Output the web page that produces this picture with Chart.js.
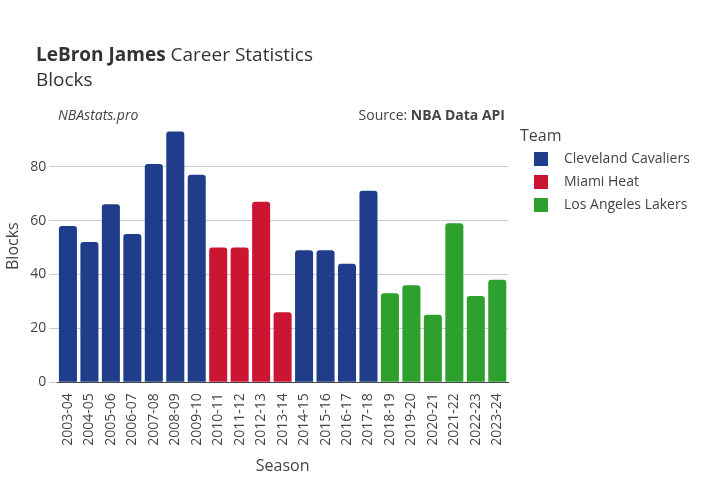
<!DOCTYPE html>
<html>
<head>
<meta charset="utf-8">
<script src="https://cdn.jsdelivr.net/npm/chart.js@4"></script>
<style>
body { margin: 0; background: #fff; }
#wrap { width: 720px; height: 480px; }
</style>
</head>
<body>
<div id="wrap"><canvas id="c" width="720" height="480"></canvas></div>
<script>
var SEASONS = ["2003-04","2004-05","2005-06","2006-07","2007-08","2008-09","2009-10","2010-11","2011-12","2012-13","2013-14","2014-15","2015-16","2016-17","2017-18","2018-19","2019-20","2020-21","2021-22","2022-23","2023-24"];
var BLOCKS = [58,52,66,55,81,93,77,50,50,67,26,49,49,44,71,33,36,25,59,32,38];
var TEAMS = ["Cleveland Cavaliers","Miami Heat","Los Angeles Lakers"];
var SEASON_TEAM = [0,0,0,0,0,0,0,1,1,1,1,0,0,0,0,2,2,2,2,2,2];
var TEAM_COLORS = ["#1f3d8a","#cc1433","#2ea02e"];
var FONT = "'Open Sans', 'Noto Sans', sans-serif";

var datasets = TEAMS.map(function (team, t) {
    return {
        label: team,
        data: BLOCKS.map(function (v, i) { return SEASON_TEAM[i] == t ? v : null; }),
        backgroundColor: TEAM_COLORS[t],
        borderRadius: 3,
        barPercentage: 0.84,
        categoryPercentage: 1
    };
});

// titles, annotations and legend drawn by hand
var decor = {
    id: 'decor',
    afterDraw: function (chart) {
        var ctx = chart.ctx;
        ctx.save();
        ctx.fillStyle = '#333';
        ctx.textBaseline = 'alphabetic';
        ctx.font = 'bold 19px ' + FONT;
        ctx.fillText('LeBron James', 36, 61);
        var w = ctx.measureText('LeBron James ').width;
        ctx.font = '19px ' + FONT;
        ctx.fillText('Career Statistics', 36 + w, 61);
        ctx.fillText('Blocks', 36, 86);

        ctx.font = 'italic 14px ' + FONT;
        ctx.fillStyle = '#444';
        ctx.fillText('NBAstats.pro', 58, 120);
        ctx.font = 'bold 14px ' + FONT;
        var bw = ctx.measureText('NBA Data API').width;
        ctx.fillText('NBA Data API', 505 - bw, 120);
        ctx.font = '14px ' + FONT;
        var sw = ctx.measureText('Source: ').width;
        ctx.fillText('Source: ', 505 - bw - sw, 120);

        ctx.font = '16px ' + FONT;
        ctx.fillStyle = '#444';
        ctx.fillText('Team', 520, 141);
        ctx.font = '14px ' + FONT;
        TEAMS.forEach(function (team, t) {
            var y = 159 + t * 23;
            ctx.fillStyle = TEAM_COLORS[t];
            ctx.fillRect(534, y - 7, 14, 14);
            ctx.fillStyle = '#444';
            ctx.textBaseline = 'middle';
            ctx.fillText(team, 564, y);
        });
        ctx.restore();
    }
};

new Chart(document.getElementById('c'), {
    type: 'bar',
    data: { labels: SEASONS, datasets: datasets },
    plugins: [decor],
    options: {
        responsive: false,
        animation: false,
        layout: { padding: { top: 110, right: 212, left: 0, bottom: 0 } },
        plugins: { legend: { display: false }, tooltip: { enabled: false } },
        scales: {
            x: {
                stacked: true,
                grid: { display: false },
                border: { color: '#444' },
                ticks: { color: '#444', font: { family: FONT, size: 14 }, minRotation: 90, maxRotation: 90, autoSkip: false },
                title: { display: true, text: 'Season', color: '#444', font: { family: FONT, size: 16 }, padding: { top: 8 } }
            },
            y: {
                stacked: true,
                min: 0,
                max: 101,
                afterBuildTicks: function (axis) {
                    axis.ticks = [0, 20, 40, 60, 80].map(function (v) { return { value: v }; });
                },
                grid: { color: '#ccc' },
                border: { display: false },
                ticks: { color: '#444', font: { family: FONT, size: 14 } },
                title: { display: true, text: 'Blocks', color: '#444', font: { family: FONT, size: 16 } }
            }
        }
    }
});
</script>
</body>
</html>
